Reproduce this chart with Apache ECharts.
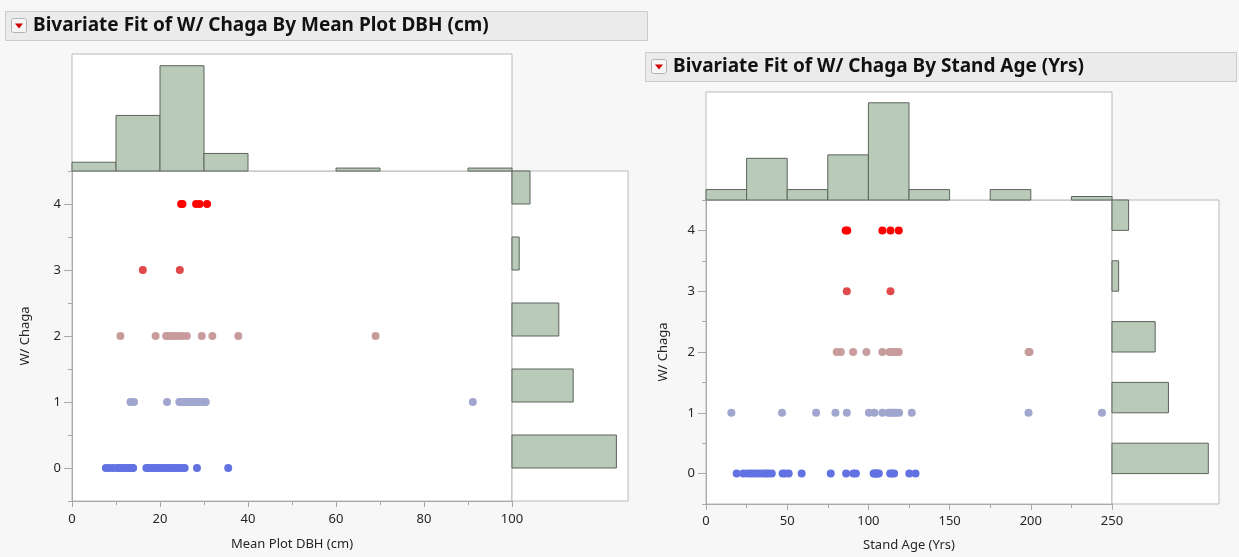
<!DOCTYPE html>
<html>
<head>
<meta charset="utf-8">
<script src="https://cdn.jsdelivr.net/npm/echarts@6/dist/echarts.min.js"></script>
<style>
  html, body { margin: 0; padding: 0; background: #f7f7f7; }
  #chart { width: 1239px; height: 557px; }
</style>
</head>
<body>
<div id="chart"></div>
<script>
// W/ Chaga levels (y categories)
const chagaLevels = ['0', '1', '2', '3', '4'];

// Mean Plot DBH (cm) for plots at each W/ Chaga level
const dbhChaga0 = [7.7, 8.5, 9.3, 10.2, 10.8, 11.3, 11.9, 12.5, 13.0, 13.6, 13.9, 16.9, 17.5, 18.1, 18.6, 19.2, 19.7,
                   20.3, 20.9, 21.5, 22.0, 22.6, 23.2, 23.8, 24.4, 25.0, 25.6, 28.4, 35.5];
const dbhChaga1 = [13.3, 14.1, 21.6, 24.4, 24.9, 25.3, 25.8, 26.2, 26.7, 27.1, 27.6, 28.2, 28.8, 29.4, 30.1, 30.4, 91.1];
const dbhChaga2 = [11.0, 19.0, 21.4, 22.0, 22.6, 23.5, 24.3, 25.0, 26.1, 29.5, 31.9, 37.8, 69.0];
const dbhChaga3 = [16.1, 24.5];
const dbhChaga4 = [24.8, 25.1, 28.2, 29.0, 30.7];

// Stand Age (Yrs) for plots at each W/ Chaga level
const ageChaga0 = [18.9, 23.0, 25.5, 27.5, 29.5, 31.5, 33.5, 35.5, 37.0, 38.5, 40.5, 47.2, 48.6, 50.9, 58.9,
                   76.8, 86.3, 90.8, 92.3, 103.2, 104.0, 104.8, 105.6, 106.4, 113.4, 114.6, 115.8, 125.2, 129.0];
const ageChaga1 = [15.6, 46.8, 67.8, 79.7, 86.7, 100.3, 103.7, 108.6, 112.3, 113.4, 114.6, 115.8, 117.0, 118.9, 126.7, 198.6, 243.8];
const ageChaga2 = [80.5, 83.0, 90.6, 98.8, 108.6, 113.0, 114.2, 115.4, 116.3, 117.5, 118.7, 198.6, 199.2];
const ageChaga3 = [86.7, 113.6];
const ageChaga4 = [86.0, 87.0, 108.6, 113.6, 118.7];

// Axis settings
const dbhAxis = { min: 0, max: 100, interval: 20, binWidth: 10 };
const ageAxis = { min: 0, max: 250, interval: 50, binWidth: 25 };

// Marker colours per W/ Chaga level
const levelColors = ['#6272e2', '#a1a6cf', '#c89c9c', '#e04a4a', '#ff0000'];

const dbhByLevel = [dbhChaga0, dbhChaga1, dbhChaga2, dbhChaga3, dbhChaga4];
const ageByLevel = [ageChaga0, ageChaga1, ageChaga2, ageChaga3, ageChaga4];

// Histogram of x values with fixed-width bins
function binCounts(groups, axis) {
  const n = Math.round((axis.max - axis.min) / axis.binWidth);
  const counts = new Array(n).fill(0);
  groups.forEach(g => g.forEach(v => {
    const i = Math.min(n - 1, Math.floor((v - axis.min) / axis.binWidth));
    counts[i]++;
  }));
  return counts.map((c, i) => [axis.min + i * axis.binWidth, axis.min + (i + 1) * axis.binWidth, c]).filter(d => d[2] > 0);
}
// Counts per W/ Chaga level
function levelCounts(groups) {
  return groups.map((g, k) => [k, g.length]).filter(d => d[1] > 0);
}

const barFill = '#b9cab9';
const barStroke = '#5c645c';
const frameColor = '#b9b9b9';
const textColor = '#262626';

function topHistRender(params, api) {
  const p0 = api.coord([api.value(0), 0]);
  const p1 = api.coord([api.value(1), api.value(2)]);
  return { type: 'rect', shape: { x: p0[0], y: p1[1], width: p1[0] - p0[0], height: p0[1] - p1[1] },
           style: { fill: barFill, stroke: barStroke, lineWidth: 1 } };
}
function sideHistRender(params, api) {
  const k = api.value(0);
  const p0 = api.coord([0, k]);
  const p1 = api.coord([api.value(1), k + 0.5]);
  return { type: 'rect', shape: { x: p0[0], y: p1[1], width: p1[0] - p0[0], height: p0[1] - p1[1] },
           style: { fill: barFill, stroke: barStroke, lineWidth: 1 } };
}

// Panel geometry: scatter area, top histogram, side histogram
const panels = [
  { name: 'Mean Plot DBH (cm)', axis: dbhAxis, data: dbhByLevel,
    scatter: { left: 72, top: 171, width: 440, height: 330 },
    top: { left: 72, top: 54, width: 440, height: 117 },
    side: { left: 512, top: 171, width: 116, height: 330 },
    yNameGap: 40, xNameGap: 37, labelMargin: 12 },
  { name: 'Stand Age (Yrs)', axis: ageAxis, data: ageByLevel,
    scatter: { left: 706, top: 200, width: 406, height: 304 },
    top: { left: 706, top: 92, width: 406, height: 108 },
    side: { left: 1112, top: 200, width: 107, height: 304 },
    yNameGap: 36, xNameGap: 35, labelMargin: 11 }
];

const grid = [], xAxis = [], yAxis = [], series = [];
const font = 'Noto Sans';

panels.forEach((p) => {
  const gBase = grid.length;
  [p.scatter, p.top, p.side].forEach(g => grid.push(Object.assign({
    show: true, backgroundColor: '#ffffff', borderColor: frameColor, borderWidth: 1, containLabel: false
  }, g)));

  const topCounts = binCounts(p.data, p.axis);
  const sideCounts = levelCounts(p.data);
  const topMax = Math.max(...topCounts.map(d => d[2])) / 0.9;
  const sideMax = Math.max(...sideCounts.map(d => d[1])) / 0.9;

  const xBase = xAxis.length;
  xAxis.push({
    gridIndex: gBase, type: 'value', min: p.axis.min, max: p.axis.max, interval: p.axis.interval,
    position: 'bottom',
    axisLine: { show: true, lineStyle: { color: '#a9a9a9', width: 1 } },
    axisTick: { show: true, length: 6, lineStyle: { color: '#a9a9a9' } },
    minorTick: { show: true, splitNumber: 2, length: 4, lineStyle: { color: '#a9a9a9' } },
    splitLine: { show: false },
    axisLabel: { color: textColor, fontFamily: font, fontSize: 13, margin: p.labelMargin },
    name: p.name, nameLocation: 'middle', nameGap: p.xNameGap,
    nameTextStyle: { color: textColor, fontFamily: font, fontSize: 13 }
  });
  xAxis.push({ gridIndex: gBase + 1, type: 'value', min: p.axis.min, max: p.axis.max, show: false });
  xAxis.push({ gridIndex: gBase + 2, type: 'value', min: 0, max: sideMax, show: false });

  const yBase = yAxis.length;
  // labelled axis with ticks on each level
  yAxis.push({
    gridIndex: gBase, type: 'category', data: chagaLevels, boundaryGap: true, position: 'left',
    axisLine: { show: true, lineStyle: { color: '#a9a9a9' } },
    axisTick: { show: true, alignWithLabel: true, length: 8, lineStyle: { color: '#a9a9a9' } },
    splitLine: { show: false },
    axisLabel: { color: textColor, fontFamily: font, fontSize: 13, margin: 11 },
    name: 'W/ Chaga', nameLocation: 'middle', nameGap: p.yNameGap, nameRotate: 90,
    nameTextStyle: { color: textColor, fontFamily: font, fontSize: 13 }
  });
  // half-level ticks between levels
  yAxis.push({
    gridIndex: gBase, type: 'category', data: chagaLevels, boundaryGap: true, position: 'left',
    axisLine: { show: false },
    axisTick: { show: true, alignWithLabel: false, length: 4, lineStyle: { color: '#a9a9a9' } },
    axisLabel: { show: false }, splitLine: { show: false }
  });
  yAxis.push({ gridIndex: gBase + 1, type: 'value', min: 0, max: topMax, show: false });
  yAxis.push({ gridIndex: gBase + 2, type: 'value', min: -0.5, max: 4.5, show: false });

  p.data.forEach((vals, k) => {
    series.push({
      type: 'scatter', name: 'W/ Chaga ' + chagaLevels[k], xAxisIndex: xBase, yAxisIndex: yBase,
      symbol: 'circle', symbolSize: 8, itemStyle: { color: levelColors[k], opacity: 1 },
      data: vals.map(v => [v, k]), silent: true, animation: false
    });
  });
  series.push({ type: 'custom', xAxisIndex: xBase + 1, yAxisIndex: yBase + 2,
    renderItem: topHistRender, data: topCounts, silent: true, animation: false });
  series.push({ type: 'custom', xAxisIndex: xBase + 2, yAxisIndex: yBase + 3,
    renderItem: sideHistRender, data: sideCounts, silent: true, animation: false });
});

// Report title bars
function titleBar(x, y, w, h, text) {
  return [
    { type: 'rect', shape: { x: x + 0.5, y: y + 0.5, width: w, height: h },
      style: { fill: '#ebebeb', stroke: '#cacaca', lineWidth: 1 }, silent: true },
    { type: 'rect', shape: { x: x + 6.5, y: y + 7.5, width: 15, height: 14, r: 2 },
      style: { fill: '#f6f6f6', stroke: '#b3b3b3', lineWidth: 1 }, silent: true },
    { type: 'polygon', shape: { points: [[x + 10, y + 12.5], [x + 18, y + 12.5], [x + 14, y + 17.5]] },
      style: { fill: '#d10000' }, silent: true },
    { type: 'text', x: x + 28, y: y + h / 2 + 0.5,
      style: { text: text, fill: '#111111', font: 'bold 19px "Noto Sans"', textVerticalAlign: 'middle' }, silent: true }
  ];
}

const chart = echarts.init(document.getElementById('chart'), null, { renderer: 'canvas' });
chart.setOption({
  backgroundColor: '#f7f7f7',
  animation: false,
  grid, xAxis, yAxis, series,
  graphic: [
    ...titleBar(5, 11, 642, 29, 'Bivariate Fit of W/ Chaga By Mean Plot DBH (cm)'),
    ...titleBar(645, 52, 591, 29, 'Bivariate Fit of W/ Chaga By Stand Age (Yrs)')
  ]
});
</script>
</body>
</html>
